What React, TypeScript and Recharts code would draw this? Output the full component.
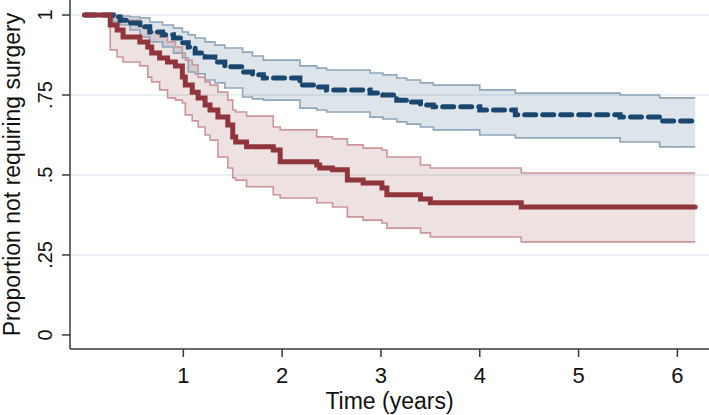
import { ComposedChart, Area, Line, XAxis, YAxis, CartesianGrid, Label } from 'recharts';

// Kaplan-Meier estimates (time in years, proportion)
const redTime = [0, 0.26, 0.33, 0.39, 0.56, 0.64, 0.68, 0.76, 0.84, 0.92, 0.99, 1.02, 1.09, 1.15, 1.22, 1.27, 1.35, 1.45, 1.5, 1.53, 1.64, 1.91, 1.98, 2.35, 2.38, 2.51, 2.66, 2.82, 3.01, 3.06, 3.4, 3.5, 4.42, 6.18];
const redSurv = [1, 0.969, 0.953, 0.931, 0.916, 0.9, 0.881, 0.866, 0.853, 0.841, 0.806, 0.781, 0.759, 0.741, 0.719, 0.703, 0.681, 0.656, 0.619, 0.603, 0.588, 0.578, 0.541, 0.531, 0.522, 0.516, 0.484, 0.475, 0.459, 0.438, 0.425, 0.413, 0.4, 0.4];
const redUpper = [1, 1, 0.991, 0.984, 0.963, 0.953, 0.947, 0.931, 0.916, 0.9, 0.881, 0.859, 0.844, 0.806, 0.791, 0.781, 0.759, 0.734, 0.703, 0.697, 0.684, 0.65, 0.641, 0.619, 0.619, 0.613, 0.594, 0.584, 0.578, 0.556, 0.531, 0.522, 0.506, 0.506];
const redLower = [1, 0.891, 0.869, 0.853, 0.841, 0.806, 0.791, 0.766, 0.741, 0.734, 0.725, 0.688, 0.669, 0.65, 0.625, 0.609, 0.556, 0.522, 0.491, 0.484, 0.463, 0.438, 0.428, 0.413, 0.413, 0.4, 0.369, 0.359, 0.35, 0.334, 0.319, 0.306, 0.291, 0.291];

const blueTime = [0, 0.29, 0.36, 0.46, 0.56, 0.66, 0.79, 0.9, 0.99, 1.05, 1.12, 1.22, 1.32, 1.42, 1.6, 1.7, 1.81, 2.18, 2.35, 2.45, 2.89, 3.02, 3.16, 3.26, 3.4, 3.53, 4.0, 4.36, 5.42, 5.82, 6.18];
const blueSurv = [1, 0.994, 0.984, 0.975, 0.963, 0.947, 0.938, 0.928, 0.913, 0.9, 0.881, 0.869, 0.853, 0.838, 0.822, 0.813, 0.803, 0.781, 0.775, 0.766, 0.756, 0.75, 0.734, 0.728, 0.719, 0.713, 0.703, 0.688, 0.681, 0.669, 0.669];
const blueUpper = [1, 1, 0.997, 0.994, 0.991, 0.978, 0.969, 0.959, 0.947, 0.938, 0.928, 0.916, 0.906, 0.897, 0.884, 0.872, 0.859, 0.841, 0.834, 0.828, 0.819, 0.813, 0.803, 0.797, 0.788, 0.781, 0.766, 0.756, 0.75, 0.741, 0.741];
const blueLower = [1, 0.978, 0.969, 0.953, 0.931, 0.916, 0.9, 0.881, 0.866, 0.822, 0.816, 0.797, 0.788, 0.772, 0.744, 0.738, 0.734, 0.709, 0.703, 0.697, 0.681, 0.675, 0.666, 0.659, 0.65, 0.641, 0.625, 0.616, 0.603, 0.588, 0.588];

const xTicks = [1, 2, 3, 4, 5, 6];
const yTicks = [0, 0.25, 0.5, 0.75, 1];
const yTickLabels = ['0', '.25', '.5', '.75', '1'];
const gridValues = [0.25, 0.5, 0.75, 1];

const FONT = '"Liberation Sans", Arial, Helvetica, sans-serif';
const AXIS = '#3a3a3a';

const redRows = redTime.map((t, i) => ({ t, surv: redSurv[i], lo: redLower[i], hi: redUpper[i] }));
const blueRows = blueTime.map((t, i) => ({ t, surv: blueSurv[i], lo: blueLower[i], hi: blueUpper[i] }));

function XTick({ x, y, payload }: any) {
  return (
    <text x={x} y={y + 24} textAnchor="middle" fontSize={22} fontFamily={FONT} fill="#111">
      {payload.value}
    </text>
  );
}

function YTick({ x, y, payload }: any) {
  const idx = yTicks.indexOf(payload.value);
  const bx = x - 8;
  return (
    <text x={bx} y={y} transform={`rotate(-90, ${bx}, ${y})`} textAnchor="middle" fontSize={20} fontFamily={FONT} fill="#111">
      {yTickLabels[idx]}
    </text>
  );
}

function YTitle({ viewBox }: any) {
  const x = viewBox.x + 20;
  const y = viewBox.y + viewBox.height / 2;
  return (
    <text x={x} y={y} transform={`rotate(-90, ${x}, ${y})`} textAnchor="middle" fontSize={23} fontFamily={FONT} fill="#111">
      Proportion not requiring surgery
    </text>
  );
}

function XTitle({ viewBox }: any) {
  return (
    <text x={viewBox.x + viewBox.width / 2} y={viewBox.y + 60} textAnchor="middle" fontSize={23} fontFamily={FONT} fill="#111">
      Time (years)
    </text>
  );
}

export default function App() {
  return (
    <div style={{ position: 'absolute', left: 0, top: 0, background: '#fff' }}>
      <ComposedChart width={709} height={415} margin={{ top: 0, right: 0, left: 0, bottom: 0 }}>
        <CartesianGrid vertical={false} horizontalValues={gridValues} stroke="#e4eef2" strokeWidth={1.5} />
        <XAxis
          type="number"
          dataKey="t"
          domain={[-0.147, 6.32]}
          ticks={xTicks}
          allowDataOverflow
          height={66}
          tickSize={8}
          stroke={AXIS}
          strokeWidth={1.5}
          tick={<XTick />}
          label={<Label content={<XTitle />} />}
        />
        <YAxis
          type="number"
          domain={[-0.044, 1.047]}
          ticks={yTicks}
          allowDataOverflow
          width={70}
          tickSize={8}
          stroke={AXIS}
          strokeWidth={1.5}
          tick={<YTick />}
          label={<Label content={<YTitle />} />}
        />

        <Area data={blueRows} dataKey={(d: any) => [d.lo, d.hi]} type="stepAfter" fill="#1a476f" fillOpacity={0.15} stroke="none" isAnimationActive={false} />
        <Area data={redRows} dataKey={(d: any) => [d.lo, d.hi]} type="stepAfter" fill="#90353b" fillOpacity={0.15} stroke="none" isAnimationActive={false} />

        <Line data={blueRows} dataKey="hi" type="stepAfter" stroke="#8ea6ba" strokeWidth={1.6} dot={false} activeDot={false} isAnimationActive={false} />
        <Line data={blueRows} dataKey="lo" type="stepAfter" stroke="#8ea6ba" strokeWidth={1.6} dot={false} activeDot={false} isAnimationActive={false} />
        <Line data={redRows} dataKey="hi" type="stepAfter" stroke="#cb959a" strokeWidth={1.6} dot={false} activeDot={false} isAnimationActive={false} />
        <Line data={redRows} dataKey="lo" type="stepAfter" stroke="#cb959a" strokeWidth={1.6} dot={false} activeDot={false} isAnimationActive={false} />

        <Line data={blueRows} dataKey="surv" type="stepAfter" stroke="#1a476f" strokeWidth={5} strokeDasharray="11 7" strokeLinecap="round" dot={false} activeDot={false} isAnimationActive={false} />
        <Line data={redRows} dataKey="surv" type="stepAfter" stroke="#90353b" strokeWidth={5} strokeLinecap="round" dot={false} activeDot={false} isAnimationActive={false} />
      </ComposedChart>
    </div>
  );
}
